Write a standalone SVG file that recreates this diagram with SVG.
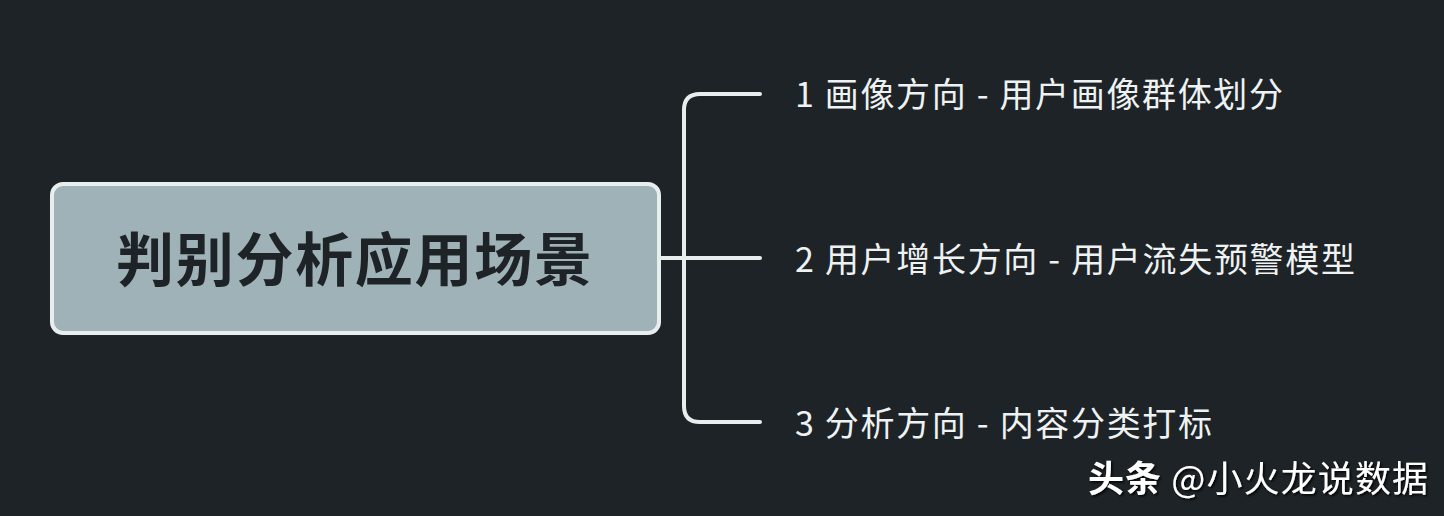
<svg xmlns="http://www.w3.org/2000/svg" width="1444" height="516" viewBox="0 0 1444 516">
<defs>
<style>
.conn{fill:none;stroke:#e8eeee;stroke-width:4;stroke-linecap:round;stroke-linejoin:round}
.root{fill:#9fb2b7;stroke:#e8eeee;stroke-width:4}
.title{font-family:"Noto Sans CJK SC","Noto Sans",sans-serif;font-weight:700;font-size:58px;fill:#1d2326}
.leaf{font-family:"Noto Sans CJK SC","Noto Sans",sans-serif;font-size:34px;fill:#eef2f2}
.wm{font-family:"Noto Sans CJK SC","Noto Sans",sans-serif;font-size:36px;fill:#ffffff}
</style>
<filter id="sh" x="-10%" y="-30%" width="120%" height="160%">
<feDropShadow dx="1.5" dy="1.5" stdDeviation="0.8" flood-color="#000" flood-opacity="0.9"/>
</filter>
</defs>
<rect width="1444" height="516" fill="#1d2326"/>
<g id="connectors">
<path class="conn" d="M660 258 H760"/>
<path class="conn" d="M760 94 H700 Q684 94 684 110 V406 Q684 422 700 422 H760"/>
</g>
<g id="root">
<rect class="root" x="52" y="184" width="607" height="149" rx="11"/>
<text class="title" x="354" y="281" text-anchor="middle" textLength="476" lengthAdjust="spacing">判别分析应用场景</text>
</g>
<g id="n1">
<text class="leaf" x="795" y="107" textLength="488" lengthAdjust="spacing">1 画像方向 - 用户画像群体划分</text>
</g>
<g id="n2">
<text class="leaf" x="795" y="272" textLength="560" lengthAdjust="spacing">2 用户增长方向 - 用户流失预警模型</text>
</g>
<g id="n3">
<text class="leaf" x="795" y="436" textLength="417" lengthAdjust="spacing">3 分析方向 - 内容分类打标</text>
</g>
<g id="watermark" filter="url(#sh)">
<text class="wm" x="1088" y="492" textLength="340" lengthAdjust="spacing"><tspan font-weight="700">头条</tspan> @小火龙说数据</text>
</g>
</svg>
